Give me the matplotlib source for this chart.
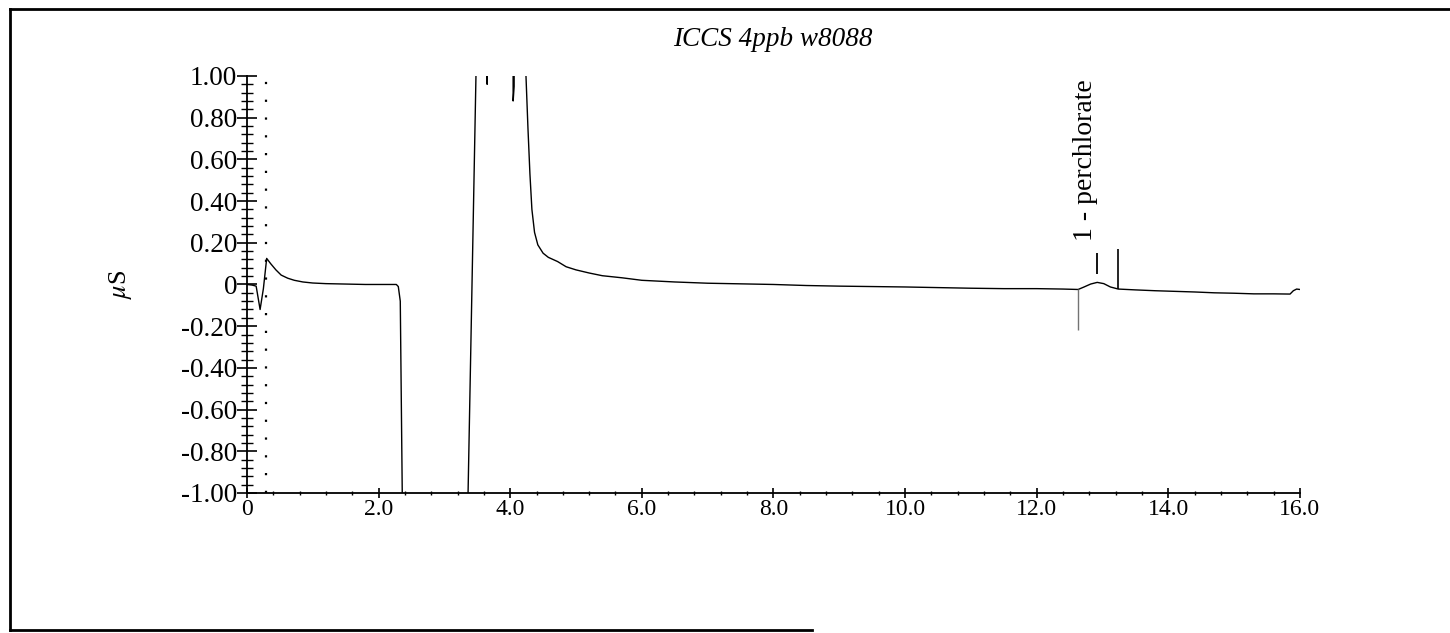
import matplotlib
matplotlib.use("Agg")
import matplotlib.pyplot as plt
from matplotlib.lines import Line2D
from matplotlib.ticker import FixedLocator, MultipleLocator

plt.rcParams['font.family'] = ['Liberation Serif', 'DejaVu Serif']
plt.rcParams['mathtext.fontset'] = 'stix'

# ---- data (time in min, conductivity in uS) ----
# values beyond +/-1 are off-scale; the axes clip them like the recorder did
time = [0.0, 0.08, 0.14, 0.20, 0.25, 0.30, 0.36, 0.44, 0.52, 0.62, 0.72,
        0.85, 1.0, 1.2, 1.5, 1.8, 2.1, 2.27, 2.30, 2.33, 2.36, 2.37,
        3.35, 3.36, 3.48, 3.49,
        3.64, 3.65, 3.66,
        4.035, 4.045, 4.06, 4.075,
        4.20, 4.24, 4.27, 4.30, 4.33, 4.37, 4.42, 4.50, 4.58, 4.65, 4.72,
        4.85, 5.0, 5.2, 5.4, 5.7, 6.0, 6.5, 7.0, 7.5, 8.0, 8.5, 9.0, 9.5,
        10.0, 10.5, 11.0, 11.5, 12.0, 12.4, 12.63, 12.72, 12.82, 12.92,
        13.02, 13.12, 13.24, 13.5, 13.8, 14.1, 14.4, 14.7, 15.0, 15.3,
        15.6, 15.85, 15.9, 15.95, 16.0]
signal = [0.0, -0.003, -0.008, -0.12, -0.02, 0.125, 0.10, 0.07, 0.045, 0.03, 0.02,
          0.012, 0.007, 0.004, 0.002, 0.0, 0.0, 0.0, -0.01, -0.08, -1.0, -5.0,
          -5.0, -1.0, 1.0, 5.0,
          5.0, 0.96, 5.0,
          5.0, 0.88, 0.95, 5.0,
          5.0, 1.0, 0.75, 0.53, 0.36, 0.25, 0.19, 0.15, 0.13, 0.12, 0.11,
          0.085, 0.07, 0.055, 0.042, 0.032, 0.02, 0.012, 0.006, 0.003, 0.0, -0.005, -0.008, -0.01,
          -0.012, -0.015, -0.018, -0.02, -0.02, -0.022, -0.024, -0.012, 0.002, 0.01,
          0.004, -0.012, -0.022, -0.026, -0.03, -0.033, -0.036, -0.04, -0.042, -0.045,
          -0.045, -0.046, -0.03, -0.022, -0.024]

# integration markers for peak 1
peak_name = '1 - perchlorate'
peak_start, peak_apex, peak_end = 12.63, 12.92, 13.24
start_marker = (-0.024, -0.22)
apex_marker = (0.05, 0.15)
end_marker = (-0.022, 0.17)
label_pos = (12.74, 0.21)

inject_time = 0.29   # dotted vertical line

xticks = [0, 2, 4, 6, 8, 10, 12, 14, 16]
xticklabels = ['0', '2.0', '4.0', '6.0', '8.0', '10.0', '12.0', '14.0', '16.0']
yticks = [1.0, 0.8, 0.6, 0.4, 0.2, 0.0, -0.2, -0.4, -0.6, -0.8, -1.0]
yticklabels = ['1.00', '0.80', '0.60', '0.40', '0.20', '0',
               '-0.20', '-0.40', '-0.60', '-0.80', '-1.00']

# ---- figure ----
fig = plt.figure(figsize=(14.5, 6.33), dpi=100)
ax = fig.add_axes([0.1703, 0.2212, 0.7262, 0.6588])

ax.plot(time, signal, color='black', lw=1.0)
ax.axvline(inject_time, color='black', lw=1.6, ls=(0, (1, 7)))

ax.vlines(peak_start, *start_marker, color='0.45', lw=1.0)
ax.vlines(peak_apex, *apex_marker, color='black', lw=1.3)
ax.vlines(peak_end, *end_marker, color='black', lw=1.2)
ax.text(*label_pos, peak_name, rotation=90, ha='center', va='bottom',
        fontsize=20)

ax.set_xlim(0, 16)
ax.set_ylim(-1, 1)
for s in ('top', 'right'):
    ax.spines[s].set_visible(False)
for s in ('left', 'bottom'):
    ax.spines[s].set_linewidth(1.3)

ax.xaxis.set_major_locator(FixedLocator(xticks))
ax.set_xticklabels(xticklabels)
ax.xaxis.set_minor_locator(MultipleLocator(0.4))
ax.yaxis.set_major_locator(FixedLocator(yticks))
ax.set_yticklabels(yticklabels)
ax.yaxis.set_minor_locator(MultipleLocator(0.04))

ax.tick_params(axis='x', which='major', direction='inout', length=7, width=1.2,
               labelsize=17, pad=1)
ax.tick_params(axis='x', which='minor', direction='inout', length=3, width=1.0)
ax.tick_params(axis='y', which='major', direction='inout', length=14, width=1.2,
               labelsize=19.5, pad=0)
ax.tick_params(axis='y', which='minor', direction='inout', length=8, width=1.0)

fig.text(0.533, 0.938, 'ICCS 4ppb w8088', ha='center', va='center',
         fontsize=19.5, style='italic')
fig.text(0.083, 0.551, r'$\mu$S', ha='center', va='center', rotation=90,
         fontsize=19)

# scanned page frame
for xs, ys in (([0.007, 1.0], [0.985, 0.985]),
               ([0.007, 0.007], [0.985, 0.004]),
               ([0.007, 0.56], [0.004, 0.004])):
    fig.add_artist(Line2D(xs, ys, transform=fig.transFigure, color='black', lw=2))

fig.savefig('out.png', dpi=100)
